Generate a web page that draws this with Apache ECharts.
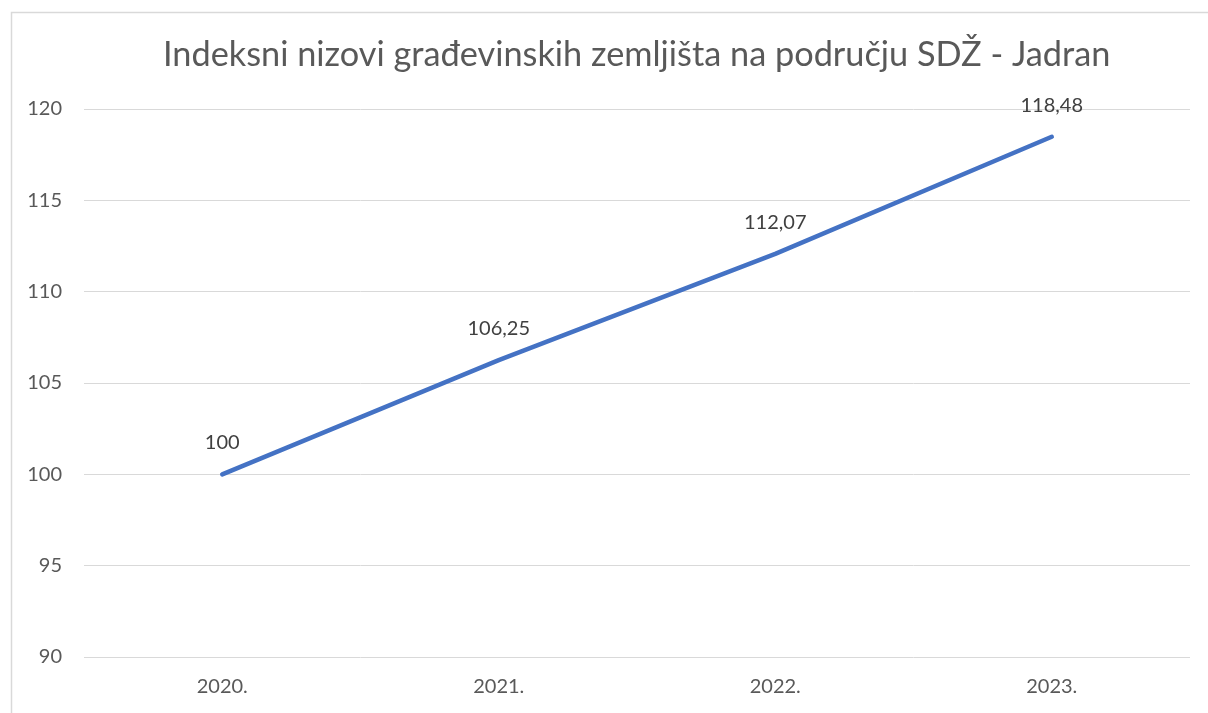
<!DOCTYPE html>
<html>
<head>
<meta charset="utf-8">
<script src="https://cdn.jsdelivr.net/npm/echarts@6/dist/echarts.min.js"></script>
<style>
  html, body { margin: 0; padding: 0; background: #fff; }
  #chart { width: 1208px; height: 713px; }
</style>
</head>
<body>
<div id="chart"></div>
<script>
// podaci s grafa
const titleText = 'Indeksni nizovi građevinskih zemljišta na području SDŽ - Jadran'
const years = ['2020.', '2021.', '2022.', '2023.']
const indexValues = [100, 106.25, 112.07, 118.48]
const yMin = 90
const yMax = 120
const yStep = 5

const chart = echarts.init(document.getElementById('chart'))

chart.setOption({
  animation: false,
  textStyle: { fontFamily: 'Lato' },
  title: {
    text: titleText,
    left: 158,
    top: 33,
    textStyle: { fontSize: 34.3, fontWeight: 'normal', color: '#595959', fontFamily: 'Lato' }
  },
  graphic: [
    {
      type: 'rect',
      left: 9,
      top: 10,
      shape: { width: 1220, height: 730 },
      style: { fill: 'none', stroke: '#d9d9d9', lineWidth: 1.5 },
      z: -1
    }
  ],
  grid: { left: 84, right: 18, top: 109, bottom: 56 },
  xAxis: {
    type: 'category',
    data: years,
    boundaryGap: true,
    axisLine: { show: false },
    axisTick: { show: false },
    axisLabel: { color: '#595959', fontSize: 20, margin: 20 }
  },
  yAxis: {
    type: 'value',
    min: yMin,
    max: yMax,
    interval: yStep,
    axisLine: { show: false },
    axisTick: { show: false },
    axisLabel: { color: '#595959', fontSize: 20, margin: 22 },
    splitLine: { lineStyle: { color: '#d9d9d9', width: 1 } }
  },
  series: [
    {
      type: 'line',
      data: indexValues,
      symbol: 'circle',
      symbolSize: 1,
      showSymbol: true,
      itemStyle: { color: 'rgba(0,0,0,0)' },
      lineStyle: { color: '#4472C4', width: 4.5, cap: 'round' },
      label: {
        show: true,
        position: 'top',
        distance: 21,
        color: '#404040',
        fontSize: 20,
        formatter: p => String(p.value).replace('.', ',')
      }
    }
  ]
})
</script>
</body>
</html>
